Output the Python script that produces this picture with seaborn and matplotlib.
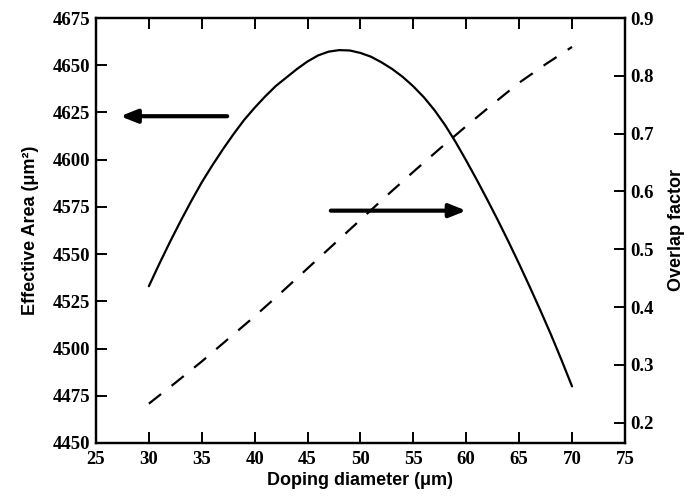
import matplotlib
matplotlib.use("Agg")
import matplotlib.pyplot as plt
import seaborn as sns
import pandas as pd

# Effective area (left axis), solid line
diam_area = list(range(30, 71))
eff_area = [4533, 4545, 4556.5, 4567.5, 4578, 4588, 4597, 4605.5, 4613.5,
            4621, 4627.5, 4633.5, 4639, 4643.5, 4648, 4652, 4655.2, 4657.2,
            4658, 4657.8, 4656.5, 4654.5, 4651.5, 4648, 4643.8, 4638.8, 4633,
            4626.2, 4618.3, 4609.3, 4599.5, 4589.3, 4578.7, 4567.8, 4556.5,
            4544.8, 4532.7, 4520.3, 4507.5, 4494, 4480]

# Overlap factor (right axis), dashed line
diam_overlap = [30, 32.5, 35, 37.5, 40, 42.5, 45, 47.5, 50, 52.5, 55, 57.5,
                60, 62.5, 65, 67.5, 70]
overlap = [0.233, 0.269, 0.306, 0.345, 0.384, 0.425, 0.467, 0.509, 0.551,
           0.593, 0.634, 0.674, 0.713, 0.751, 0.788, 0.82, 0.85]

x_ticks = [25, 30, 35, 40, 45, 50, 55, 60, 65, 70, 75]
left_ticks = [4450, 4475, 4500, 4525, 4550, 4575, 4600, 4625, 4650, 4675]
right_ticks = [0.2, 0.3, 0.4, 0.5, 0.6, 0.7, 0.8, 0.9]

sns.set_style("ticks")
plt.rcParams['font.family'] = ['Liberation Sans', 'DejaVu Sans']
for key in ("text.color", "axes.labelcolor", "xtick.color", "ytick.color",
            "axes.edgecolor"):
    plt.rcParams[key] = "black"

df_area = pd.DataFrame({"d": diam_area, "a": eff_area})
df_ov = pd.DataFrame({"d": diam_overlap, "o": overlap})

fig = plt.figure(figsize=(6.89, 4.96), dpi=100)
ax = fig.add_axes([0.1393, 0.1069, 0.7677, 0.8568])
ax2 = ax.twinx()

sns.lineplot(data=df_area, x="d", y="a", ax=ax, color="black", linewidth=1.6)
sns.lineplot(data=df_ov, x="d", y="o", ax=ax2, color="black", linewidth=1.6,
             linestyle=(0, (7, 6)))

ax.set_xlim(25, 75)
ax.set_ylim(4450, 4675)
ax2.set_ylim(0.165, 0.9)
ax.set_xticks(x_ticks)
ax.set_yticks(left_ticks)
ax2.set_yticks(right_ticks)
ax2.set_yticklabels([f"{t:.1f}" for t in right_ticks])

for lab in ax.get_xticklabels() + ax.get_yticklabels() + ax2.get_yticklabels():
    lab.set_fontfamily("Liberation Serif")
    lab.set_fontweight("bold")
    lab.set_fontsize(13.5)

ax.tick_params(axis="x", direction="in", length=8, width=1.4, top=True, pad=6)
ax.tick_params(axis="y", direction="in", length=8, width=1.4, pad=4)
ax2.tick_params(axis="y", direction="in", length=8, width=1.4, pad=4)
for a in (ax, ax2):
    for s in a.spines.values():
        s.set_linewidth(1.6)
        s.set_visible(True)

ax.set_xlabel("Doping diameter (μm)", fontsize=13, fontweight="bold", labelpad=3)
ax.set_ylabel("Effective Area (μm²)", fontsize=13, fontweight="bold", labelpad=10)
ax2.set_ylabel("Overlap factor", fontsize=13, fontweight="bold", labelpad=10)

# arrows pointing to the axis each curve belongs to
arrow = dict(arrowstyle="-|>,head_length=1.0,head_width=0.4", color="black",
             lw=3, shrinkA=0, shrinkB=0)
ax.annotate("", xy=(27.3, 4623), xytext=(37.4, 4623), arrowprops=arrow)
ax.annotate("", xy=(60.0, 4573), xytext=(47.2, 4573), arrowprops=arrow)

fig.savefig("out.png", dpi=100)
